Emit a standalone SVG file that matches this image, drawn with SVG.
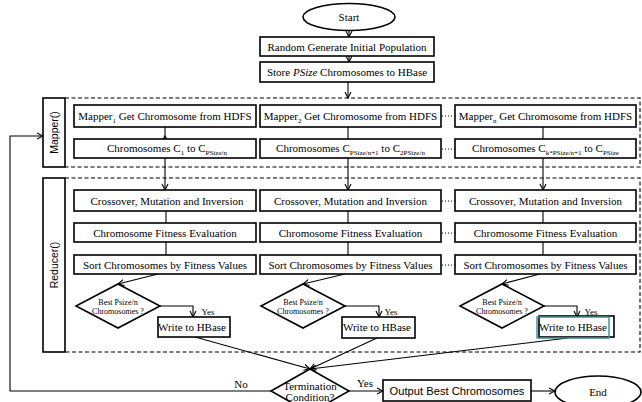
<svg xmlns="http://www.w3.org/2000/svg" width="642" height="402" viewBox="0 0 642 402">
<defs>
<marker id="ah" markerWidth="8" markerHeight="8" refX="7" refY="4" orient="auto" markerUnits="userSpaceOnUse">
<path d="M1,1 L7,4 L1,7" fill="none" stroke="#000" stroke-width="1.1"/>
</marker>
<style>
.box{fill:#fff;stroke:#000;stroke-width:1.6}
.t{font-family:"Liberation Serif","Times New Roman",serif;font-size:11px;fill:#000;text-anchor:middle}
.s{font-family:"Liberation Sans",Arial,sans-serif;fill:#000;text-anchor:middle}
.sub{font-size:7px}
.ln{fill:none;stroke:#000;stroke-width:1.1}
.dash{fill:none;stroke:#000;stroke-width:1.1;stroke-dasharray:4,2.5}
.dots{fill:none;stroke:#000;stroke-width:1;stroke-dasharray:1,2}
.small{font-size:8px}
.yes{font-size:9px}
</style>
</defs>
<rect width="642" height="402" fill="#fff"/>

<g id="regions">
<rect x="43" y="98" width="22" height="69" class="box"/>
<path d="M65,98 H640 V167 H65" class="dash"/>
<text class="s" font-size="10.5" transform="translate(57.5,132.5) rotate(-90)">Mapper()</text>
<rect x="43" y="178" width="22" height="174" class="box"/>
<path d="M65,178 H640 V352 H65" class="dash"/>
<text class="s" font-size="10.5" transform="translate(57.5,265) rotate(-90)">Reducer()</text>
</g>

<g id="connectors">
<line x1="349" y1="31" x2="349" y2="37" class="ln" marker-end="url(#ah)"/>
<line x1="349" y1="56" x2="349" y2="62" class="ln" marker-end="url(#ah)"/>
<line x1="348" y1="82" x2="348" y2="98" class="ln" marker-end="url(#ah)"/>
<line x1="165" y1="127" x2="165" y2="139" class="ln"/>
<path d="M162.5,140 L165,136 L167.5,140" class="ln"/>
<line x1="348" y1="127" x2="348" y2="139" class="ln"/>
<line x1="543" y1="127" x2="543" y2="139" class="ln"/>
<line x1="165" y1="158" x2="165" y2="190" class="ln" marker-end="url(#ah)"/>
<line x1="348" y1="158" x2="348" y2="190" class="ln" marker-end="url(#ah)"/>
<line x1="543" y1="158" x2="543" y2="190" class="ln" marker-end="url(#ah)"/>
<line x1="166" y1="211" x2="166" y2="223" class="ln"/>
<line x1="166" y1="242" x2="166" y2="255" class="ln"/>
<line x1="348" y1="211" x2="348" y2="223" class="ln"/>
<line x1="348" y1="242" x2="348" y2="255" class="ln"/>
<line x1="543" y1="211" x2="543" y2="223" class="ln"/>
<line x1="543" y1="242" x2="543" y2="255" class="ln"/>
<line x1="158" y1="274" x2="118" y2="284" class="ln" marker-end="url(#ah)"/>
<line x1="345" y1="274" x2="303" y2="284" class="ln" marker-end="url(#ah)"/>
<line x1="540" y1="274" x2="502" y2="284" class="ln" marker-end="url(#ah)"/>
<path d="M160,306 H193 V317" class="ln" marker-end="url(#ah)"/>
<path d="M345,306 H379 V317" class="ln" marker-end="url(#ah)"/>
<path d="M544,306 H577 V317" class="ln" marker-end="url(#ah)"/>
<line x1="195" y1="337" x2="310" y2="369" class="ln" marker-end="url(#ah)"/>
<line x1="377" y1="338" x2="310" y2="369" class="ln" marker-end="url(#ah)"/>
<line x1="568" y1="338" x2="310" y2="369" class="ln" marker-end="url(#ah)"/>
<path d="M271,391 H10 V136 H43" class="ln" marker-end="url(#ah)"/>
<line x1="349" y1="391" x2="383" y2="391" class="ln" marker-end="url(#ah)"/>
<line x1="531" y1="391" x2="555" y2="391" class="ln" marker-end="url(#ah)"/>
<line x1="442" y1="116" x2="455" y2="116" class="dots"/>
<line x1="442" y1="149" x2="455" y2="149" class="dots"/>
<line x1="442" y1="201" x2="455" y2="201" class="dots"/>
<line x1="442" y1="233" x2="455" y2="233" class="dots"/>
<line x1="442" y1="265" x2="455" y2="265" class="dots"/>
<text class="t" x="241" y="388">No</text>
<text class="t" x="365" y="387">Yes</text>
<text class="t yes" x="208" y="315">Yes</text>
<text class="t yes" x="391" y="315">Yes</text>
<text class="t yes" x="591" y="315">Yes</text>
</g>

<g id="start"><ellipse cx="349" cy="17" rx="46" ry="13.5" class="box"/><text class="t" x="349" y="21">Start</text></g>
<g id="random"><rect x="260" y="37" width="174" height="19" class="box"/><text class="t" x="347" y="50.5">Random Generate Initial Population</text></g>
<g id="store"><rect x="260" y="62" width="174" height="20" class="box"/><text class="t" x="347" y="76">Store <tspan font-style="italic">PSize</tspan> Chromosomes to HBase</text></g>

<g id="mapper1"><rect x="74" y="105" width="182" height="22" class="box"/><text class="t" x="165" y="120" font-size="11.3">Mapper<tspan class="sub" dy="2.5">1</tspan><tspan dy="-2.5"> Get Chromosome from HDFS</tspan></text></g>
<g id="mapper2"><rect x="260" y="105" width="181" height="22" class="box"/><text class="t" x="350.5" y="120" font-size="11.3">Mapper<tspan class="sub" dy="2.5">2</tspan><tspan dy="-2.5"> Get Chromosome from HDFS</tspan></text></g>
<g id="mappern"><rect x="455" y="105" width="181" height="22" class="box"/><text class="t" x="545.5" y="120" font-size="11.3">Mapper<tspan class="sub" dy="2.5">n</tspan><tspan dy="-2.5"> Get Chromosome from HDFS</tspan></text></g>

<g id="chrom1"><rect x="74" y="139" width="182" height="19" class="box"/><text class="t" x="167" y="152">Chromosomes C<tspan class="sub" dy="2.5">1</tspan><tspan dy="-2.5"> to C</tspan><tspan class="sub" dy="2.5">PSize/n</tspan></text></g>
<g id="chrom2"><rect x="260" y="139" width="181" height="19" class="box"/><text class="t" x="350.5" y="152">Chromosomes C<tspan class="sub" dy="2.5">PSize/n+1</tspan><tspan dy="-2.5"> to C</tspan><tspan class="sub" dy="2.5">2PSize/n</tspan></text></g>
<g id="chromn"><rect x="455" y="139" width="181" height="19" class="box"/><text class="t" x="545.5" y="152">Chromosomes C<tspan class="sub" dy="2.5">k*PSize/n+1</tspan><tspan dy="-2.5"> to C</tspan><tspan class="sub" dy="2.5">PSize</tspan></text></g>

<g id="cross1"><rect x="74" y="190" width="182" height="21" class="box"/><text class="t" x="167" y="204.5">Crossover, Mutation and Inversion</text></g>
<g id="cross2"><rect x="260" y="190" width="181" height="21" class="box"/><text class="t" x="350.5" y="204.5">Crossover, Mutation and Inversion</text></g>
<g id="crossn"><rect x="455" y="190" width="181" height="21" class="box"/><text class="t" x="545.5" y="204.5">Crossover, Mutation and Inversion</text></g>

<g id="fit1"><rect x="74" y="223" width="182" height="19" class="box"/><text class="t" x="165" y="236.5">Chromosome Fitness Evaluation</text></g>
<g id="fit2"><rect x="260" y="223" width="181" height="19" class="box"/><text class="t" x="350.5" y="236.5">Chromosome Fitness Evaluation</text></g>
<g id="fitn"><rect x="455" y="223" width="181" height="19" class="box"/><text class="t" x="545.5" y="236.5">Chromosome Fitness Evaluation</text></g>

<g id="sort1"><rect x="74" y="255" width="182" height="19" class="box"/><text class="t" x="165" y="268.5">Sort Chromosomes by Fitness Values</text></g>
<g id="sort2"><rect x="260" y="255" width="181" height="19" class="box"/><text class="t" x="350.5" y="268.5">Sort Chromosomes by Fitness Values</text></g>
<g id="sortn"><rect x="455" y="255" width="181" height="19" class="box"/><text class="t" x="545.5" y="268.5">Sort Chromosomes by Fitness Values</text></g>

<g id="best1"><polygon points="118,284 160,306 118,328 76,306" class="box" stroke-width="1.2"/><text class="t small" x="118" y="305">Best Psize/n</text><text class="t small" x="118" y="314">Chromosomes ?</text></g>
<g id="best2"><polygon points="303,284 345,306 303,328 261,306" class="box" stroke-width="1.2"/><text class="t small" x="303" y="305">Best Psize/n</text><text class="t small" x="303" y="314">Chromosomes ?</text></g>
<g id="bestn"><polygon points="502,284 544,306 502,328 460,306" class="box" stroke-width="1.2"/><text class="t small" x="502" y="305">Best Psize/n</text><text class="t small" x="502" y="314">Chromosomes ?</text></g>

<g id="write1"><rect x="158" y="317" width="72" height="20" class="box"/><text class="t" x="192" y="331" font-size="9.5">Write to HBase</text></g>
<g id="write2"><rect x="342" y="317" width="73" height="21" class="box"/><text class="t" x="377" y="331" font-size="9.5">Write to HBase</text></g>
<g id="writen"><rect x="539" y="316" width="75" height="21" class="box"/><rect x="537" y="317" width="72" height="21" fill="none" stroke="#2f8f8f" stroke-width="1.4"/><text class="t" x="573" y="331" font-size="9.5">Write to HBase</text></g>

<g id="termination"><polygon points="310,369 349,391 310,413 271,391" class="box" stroke-width="1.2"/><text class="t" x="310" y="390" font-size="10">Termination</text><text class="t" x="310" y="401" font-size="10">Condition?</text></g>
<g id="output"><rect x="383" y="380" width="148" height="21" class="box"/><text class="s" x="457" y="395" font-size="11.2">Output Best Chromosomes</text></g>
<g id="end"><ellipse cx="598" cy="392" rx="43" ry="16" class="box"/><text class="t" x="598" y="396">End</text></g>
</svg>
